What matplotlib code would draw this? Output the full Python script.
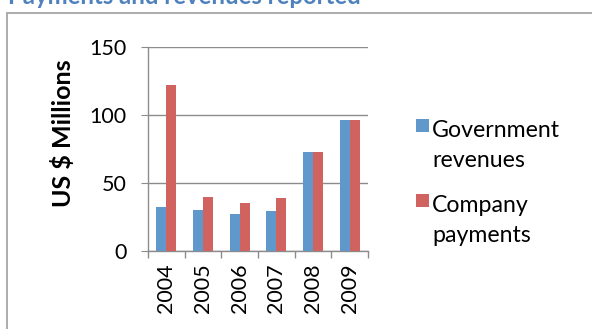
import matplotlib
matplotlib.use("Agg")
import matplotlib.pyplot as plt
from matplotlib.patches import Rectangle
import numpy as np

plt.rcParams['font.family'] = ['Lato', 'DejaVu Sans']

years = ['2004', '2005', '2006', '2007', '2008', '2009']
government = [32, 30, 27, 29.5, 72.5, 96]
company = [122, 40, 35, 39, 72.5, 96]
series_names = ['Government\nrevenues', 'Company\npayments']

blue = '#6098CC'
red = '#D0635F'
grid_grey = '#8C8C8C'

W, H = 592, 329
fig = plt.figure(figsize=(W / 100, H / 100), dpi=100)

def fx(x):
    return x / W

def fy(y):
    return 1 - y / H

# outer chart border, runs off the right and bottom edge
fig.add_artist(Rectangle((fx(7), fy(400)), fx(700), fy(13) - fy(400),
                         transform=fig.transFigure, fill=False,
                         edgecolor='#A6A6A6', linewidth=1.3))

# title sits mostly above the top of the image
fig.text(fx(8), fy(4), 'Payments and revenues reported', fontsize=17.2,
         fontweight='bold', color='#4F81BD', va='baseline', ha='left')

ax = fig.add_axes([fx(148), fy(251), fx(368) - fx(148), fy(47) - fy(251)])

x = np.arange(len(years))
w = 0.275
ax.bar(x - w / 2, government, w, color=blue, zorder=3)
ax.bar(x + w / 2, company, w, color=red, zorder=3)

ax.set_xlim(-0.5, len(years) - 0.5)
ax.set_ylim(0, 150)
ax.set_yticks([0, 50, 100, 150])
ax.yaxis.grid(True, color=grid_grey, linewidth=1.0, zorder=0)
ax.tick_params(axis='y', length=5, color=grid_grey, labelsize=15.5, pad=10.5)

ax.set_xticks(x)
ax.set_xticklabels(years, rotation=90, fontsize=15.5)
ax.tick_params(axis='x', length=0, pad=9)
ax.set_xticks(np.arange(len(years) + 1) - 0.5, minor=True)
ax.tick_params(axis='x', which='minor', length=5, color=grid_grey, width=1.0)

for side in ['top', 'right']:
    ax.spines[side].set_visible(False)
for side in ['left', 'bottom']:
    ax.spines[side].set_color(grid_grey)
    ax.spines[side].set_linewidth(1.0)

ax.set_ylabel('US $ Millions', fontsize=18, fontweight='bold')
ax.yaxis.set_label_coords(-0.33, 0.578)

# legend drawn by hand: square swatches with two-line labels
for top, color, label in [(119, blue, series_names[0]), (194, red, series_names[1])]:
    fig.add_artist(Rectangle((fx(416), fy(top + 13)), fx(13), fy(top) - fy(top + 13),
                             transform=fig.transFigure, facecolor=color,
                             edgecolor='none'))
    fig.text(fx(432), fy(top + 1), label, fontsize=16.7, va='top', ha='left',
             linespacing=1.52)

fig.savefig('out.png', dpi=100)
